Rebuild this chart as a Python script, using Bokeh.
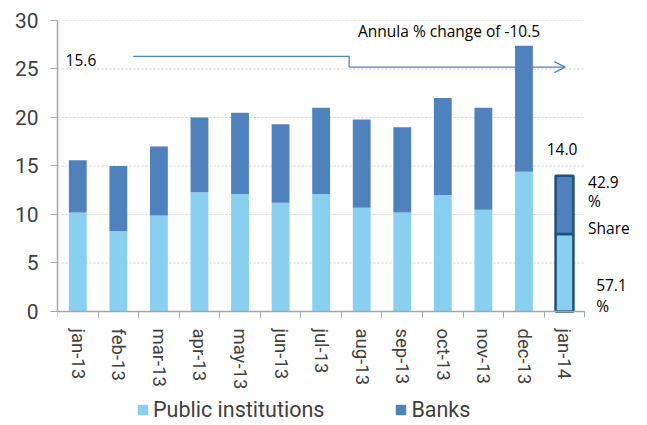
import numpy as np
from bokeh.plotting import figure
from bokeh.models import (Range1d, FixedTicker, Label, Legend, LegendItem, Arrow, OpenHead)
from bokeh.embed import file_html
from bokeh.resources import INLINE

months = ["jan-13", "feb-13", "mar-13", "apr-13", "may-13", "jun-13", "jul-13",
          "aug-13", "sep-13", "oct-13", "nov-13", "dec-13", "jan-14"]
public = [10.2, 8.3, 9.9, 12.3, 12.1, 11.2, 12.1, 10.7, 10.2, 12.0, 10.5, 14.4, 8.0]
banks = [5.4, 6.7, 7.1, 7.7, 8.4, 8.1, 8.9, 9.1, 8.8, 10.0, 10.5, 13.0, 6.0]
y_ticks = [0, 5, 10, 15, 20, 25, 30]
annual_change = -10.5
share_banks = 42.9
share_public = 57.1

LIGHT = "#89CFF0"
DARK = "#4F81BD"
NAVY = "#1F4E79"
FONT = "Roboto"
ANN_FONT = "Open Sans"

n = len(months)
xc = list(np.arange(n) + 0.5)
totals = [a + b for a, b in zip(public, banks)]

# frame extends below zero to hold the category labels and the legend
p = figure(frame_width=580, frame_height=403, output_backend="svg", toolbar_location=None,
           x_range=Range1d(0, 14.3), y_range=Range1d(-11.55, 30),
           min_border_left=57, min_border_top=20, min_border_right=8, min_border_bottom=0)
p.outline_line_color = None
p.background_fill_color = "white"

# dotted gridlines limited to the category area
p.segment(x0=0, x1=n, y0=y_ticks[1:], y1=y_ticks[1:], line_color="#D0D0D0",
          line_dash="2 2", line_width=1)

# annotation arrow (drawn before bars)
p.line(x=[1.87, 7.19, 7.19], y=[26.3, 26.3, 25.2], line_color=DARK, line_width=1.3)
p.add_layout(Arrow(end=OpenHead(line_color=DARK, line_width=1.3, size=11),
                   x_start=7.19, y_start=25.2, x_end=12.52, y_end=25.2,
                   line_color=DARK, line_width=1.3))

w = 0.44
idx = list(range(n - 1))
r1 = p.vbar(x=[xc[i] for i in idx], bottom=0, top=[public[i] for i in idx], width=w,
            fill_color=LIGHT, line_color=None)
r2 = p.vbar(x=[xc[i] for i in idx], bottom=[public[i] for i in idx], top=[totals[i] for i in idx],
            width=w, fill_color=DARK, line_color=None)
# last bar (share) with outline
p.vbar(x=[xc[-1]], bottom=0, top=[public[-1]], width=w, fill_color=LIGHT,
       line_color=NAVY, line_width=2.5)
p.vbar(x=[xc[-1]], bottom=[public[-1]], top=[totals[-1]], width=w, fill_color=DARK,
       line_color=NAVY, line_width=2.5)

# axes
p.yaxis.ticker = FixedTicker(ticks=y_ticks)
p.yaxis.bounds = (0, 30)
p.yaxis.major_label_text_font = FONT
p.yaxis.major_label_text_font_size = "21px"
p.yaxis.major_label_text_color = "#404040"
p.yaxis.major_tick_out = 7
p.yaxis.major_tick_in = 0
p.yaxis.minor_tick_line_color = None
p.yaxis.major_label_standoff = 12
p.yaxis.axis_line_color = "#A6A6A6"
p.yaxis.axis_line_width = 1.5
p.yaxis.major_tick_line_color = "#A6A6A6"

p.xaxis.fixed_location = 0
p.xaxis.ticker = FixedTicker(ticks=xc, minor_ticks=list(range(n + 1)))
p.xaxis.bounds = (0, n)
p.xaxis.major_label_overrides = {float(x): m for x, m in zip(xc, months)}
p.xaxis.major_label_orientation = "vertical"
p.xaxis.major_label_text_font = FONT
p.xaxis.major_label_text_font_size = "18.5px"
p.xaxis.major_label_text_color = "#404040"
p.xaxis.major_tick_line_color = None
p.xaxis.minor_tick_line_color = "#A6A6A6"
p.xaxis.minor_tick_out = 6
p.xaxis.minor_tick_in = 0
p.xaxis.major_label_standoff = 11
p.xaxis.axis_line_color = "#A6A6A6"
p.xaxis.axis_line_width = 1.5

p.xgrid.grid_line_color = None
p.ygrid.grid_line_color = None

# text annotations
def lab(x, y, text, align="left"):
    p.add_layout(Label(x=x, y=y, text=text, text_font=ANN_FONT, text_font_size="15.5px",
                       text_color="black", text_align=align, text_baseline="middle"))

lab(0.2, 25.9, f"{totals[0]:.1f}")
lab(7.41, 28.9, f"Annula % change of {annual_change:.1f}")
lab(12.44, 16.8, f"{totals[-1]:.1f}", align="center")
lab(13.08, 13.4, f"{share_banks:.1f}")
lab(13.08, 11.4, "%")
lab(13.08, 8.6, "Share")
lab(13.28, 2.7, f"{share_public:.1f}")
lab(13.28, 0.6, "%")

legend = Legend(items=[LegendItem(label="Public institutions", renderers=[r1]),
                       LegendItem(label="Banks", renderers=[r2])],
                orientation="horizontal", location=(79, 1),
                label_text_font=FONT, label_text_font_size="21.5px", label_text_color="#404040",
                glyph_width=13, glyph_height=13, spacing=70, label_standoff=4,
                padding=0, margin=0, border_line_color=None, background_fill_alpha=0)
p.add_layout(legend, "center")

open("out.html", "w").write(file_html(p, INLINE))
